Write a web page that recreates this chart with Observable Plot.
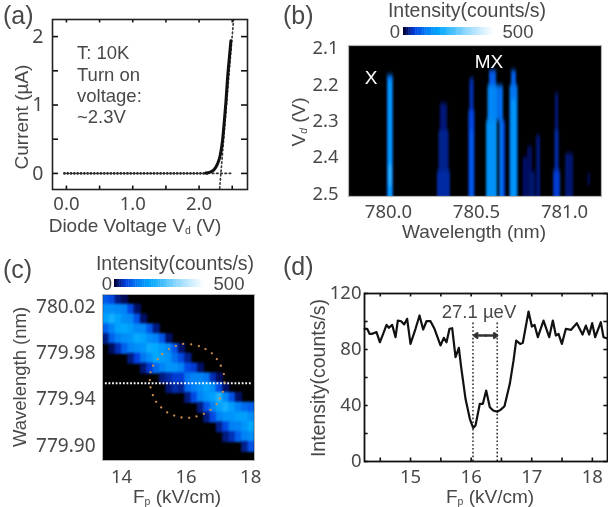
<!DOCTYPE html>
<html><head><meta charset="utf-8">
<script src="https://cdn.jsdelivr.net/npm/d3@7"></script>
<script src="https://cdn.jsdelivr.net/npm/@observablehq/plot@0.6"></script>
<style>
html,body{margin:0;padding:0;background:#fff}
#root{position:relative;width:608px;height:507px;overflow:hidden;font-family:"Liberation Sans",Arial,sans-serif;color:#484848;filter:blur(0.35px)}
#root svg{position:absolute;background:transparent;overflow:visible}
.t{position:absolute;white-space:nowrap;line-height:1;transform:translate(-50%,-50%)}
.t sub{font-size:.55em;vertical-align:-0.25em;line-height:0}
</style></head><body>
<svg width="0" height="0" style="position:absolute"><defs><filter id="streak" x="-5%" y="-20%" width="110%" height="140%"><feGaussianBlur stdDeviation="1.1 2.8"/></filter></defs></svg>
<div id="root"></div>
<script>
// ---------- panel (a) diode I-V ----------
const ivFlatV = [-0.03,0.02,0.07,0.12,0.17,0.22,0.27,0.32,0.37,0.42,0.47,0.52,0.57,0.62,0.67,0.72,0.77,0.82,0.87,0.92,0.97,1.02,1.07,1.12,1.17,1.22,1.27,1.32,1.37,1.42,1.47,1.52,1.57,1.62,1.67,1.72,1.77,1.82,1.87,1.92,1.97,2.02,2.07,2.12];
const ivFlatI = ivFlatV.map(() => 0);
const ivV = [2.10,2.167,2.228,2.278,2.318,2.353,2.379,2.404,2.428,2.459,2.48];
const ivI = [0.005,0.02,0.058,0.14,0.263,0.48,0.75,1.04,1.38,1.72,1.94];
const tangentV = [2.31,2.52];
const tangentI = [-0.22,2.25];
const zeroV = [2.2,2.48];
const zeroI = [0,0];
const aXTicks = [0,0.5,1,1.5,2,2.5];
const aXLabels = [0,1,2];
const aYTicks = [0,0.5,1,1.5,2];
const aYLabels = [0,1,2];
const aNotes = ["T: 10K","Turn on","voltage:","~2.3V"];

// ---------- panels (b,c) shared colour map ----------
const cmapStops = [0,60,130,200,350,500];
const cmapColors = ["#00003c","#0040e0","#0080f5","#00a8ff","#90d8ff","#ffffff"];
const legendSteps = [0,10,20,30,40,50,60,70,80,90,100,110,120,130,140,150,160,170,180,190,200,210,220,230,240,250,260,270,280,290,300,310,320,330,340,350,360,370,380,390,400,410,420,430,440,450,460,470,480,490];

// ---------- panel (b) spectra, one row per emission segment ----------
const bWl1 = [779.994,780.003,780.003,780.295,780.287,780.278,780.463,780.457,780.466,780.574,780.565,780.557,780.619,780.631,780.653,780.699,780.690,780.699,780.765,780.790,780.800,780.841,780.949,780.946,780.938,781.006,781.131];
const bWl2 = [780.028,780.020,780.020,780.335,780.344,780.352,780.486,780.491,780.483,780.614,780.619,780.619,780.653,780.653,780.665,780.727,780.736,780.727,780.790,780.820,780.835,780.864,780.966,780.969,780.977,781.051,781.148];
const bV1  = [2.174,2.188,2.423,2.252,2.326,2.437,2.183,2.271,2.326,2.161,2.202,2.299,2.202,2.299,2.299,2.161,2.202,2.243,2.400,2.370,2.440,2.340,2.224,2.326,2.437,2.390,2.445];
const bV2  = [2.6,2.6,2.478,2.326,2.437,2.6,2.271,2.6,2.6,2.202,2.299,2.6,2.299,2.6,2.6,2.202,2.6,2.6,2.6,2.6,2.6,2.6,2.326,2.437,2.6,2.6,2.478];
const bI   = [110,190,240,22,30,38,45,65,90,90,140,160,110,115,60,95,120,170,16,12,18,22,26,40,55,20,7];
const bXTicks = [780,780.5,781];
const bYTicks = [2.1,2.2,2.3,2.4,2.5];

// ---------- panel (c) field map: first column of each row + its intensities ----------
const cFieldStart = 13.41, cFieldStep = 0.196, cWlStart = 780.031, cWlStep = 0.0085;
const cStart = [0,0,0,0,0,1,4,6,9,10,13,15,16,18,19,22];
const cRow00 = [90,70,25,10];
const cRow01 = [155,155,145,135,70,15];
const cRow02 = [185,220,190,155,145,80,15];
const cRow03 = [95,135,190,200,180,145,145,85,25];
const cRow04 = [25,95,135,155,165,205,190,155,135,85,15];
const cRow05 = [12,45,95,135,155,165,210,200,170,145,80,15];
const cRow06 = [25,60,120,155,200,180,165,110,70,30];
const cRow07 = [20,55,105,135,165,165,135,70,55,15];
const cRow08 = [25,40,55,55,120,135,135,120,45,12];
const cRow09 = [20,40,30,105,130,155,185,155,70,15];
const cRow10 = [25,70,135,170,190,235,145,80,15];
const cRow11 = [25,80,135,190,220,180,135,110,95];
const cRow12 = [25,70,135,165,165,180,190,155];
const cRow13 = [30,70,130,135,165,200];
const cRow14 = [25,45,95,135,155];
const cRow15 = [30,80];
const cRows = [cRow00,cRow01,cRow02,cRow03,cRow04,cRow05,cRow06,cRow07,cRow08,cRow09,cRow10,cRow11,cRow12,cRow13,cRow14,cRow15];
const ringF = [14.877,14.898,14.970,15.073,15.228,15.414,15.631,15.858,16.096,16.323,16.550,16.757,16.943,17.046,17.139,17.191,17.170,17.077,16.953,16.798,16.602,16.396,16.158,15.910,15.683,15.466,15.259,15.125,14.980,14.898];
const ringW = [779.9568,779.9504,779.9437,779.9379,779.9330,779.9287,779.9260,779.9243,779.9240,779.9252,779.9275,779.9310,779.9359,779.9408,779.9466,779.9547,779.9620,779.9692,779.9750,779.9800,779.9837,779.9863,779.9878,779.9881,779.9863,779.9837,779.9794,779.9750,779.9692,779.9635];
const cutWl = 779.954;
const cXTicks = [14,16,18];
const cYTicks = [780.02,779.98,779.94,779.90];

// ---------- panel (d) cross-section ----------
const dF = [14.24,14.284,14.323,14.367,14.438,14.493,14.548,14.603,14.642,14.697,14.752,14.790,14.845,14.895,14.944,14.999,15.082,15.148,15.208,15.263,15.329,15.395,15.494,15.549,15.593,15.643,15.687,15.742,15.797,15.835,15.907,15.978,16.033,16.072,16.143,16.193,16.248,16.308,16.363,16.429,16.484,16.550,16.638,16.699,16.743,16.809,16.853,16.947,17.002,17.046,17.101,17.194,17.288,17.348,17.398,17.442,17.497,17.563,17.645,17.744,17.838,17.893,17.948,17.997,18.047,18.140,18.184,18.267];
const dI = [94.8,94.8,91.2,91.2,92.4,85.2,91.2,97.6,95.5,97.6,88.8,100.7,100.2,97.9,101.9,84,94.8,104.3,94.3,100.2,100.2,94.8,82.9,88.3,85.2,94.8,95.2,74.5,81.2,67.4,44.8,30.5,24,25.7,41.2,41.2,50.7,38.8,36.4,35.5,36.9,39.5,55.5,72,86.4,84,84.8,107.1,96.4,97.6,88.8,100.7,88.8,100.7,90,91.2,84,94.8,94,98.8,90.7,97.1,90.7,98.8,88.8,99.5,88.8,87.6];
const dipF = [16.03,16.43];
const dipTop = 99;
const arrowF = [16.05,16.43];
const arrowI = 90;
const dXTicks = [14.5,15,15.5,16,16.5,17,17.5,18];
const dXLabels = [15,16,17,18];
const dYTicks = [0,20,40,60,80,100,120];
const dYLabels = [0,40,80,120];

// ---------- helpers ----------
const root = document.getElementById("root");
const textColor = "#484848";
function mount(plot,left,top){plot.style.left=left+"px";plot.style.top=top+"px";root.appendChild(plot);}
function label(html,cx,cy,o={}){
  const d=document.createElement("div");d.className="t";d.innerHTML=html;
  d.style.left=cx+"px";d.style.top=cy+"px";d.style.fontSize=(o.size||19)+"px";
  if(o.color)d.style.color=o.color;
  if(o.left)d.style.transform="translate(0,-50%)";
  if(o.rot)d.style.transform="translate(-50%,-50%) rotate(-90deg)";
  root.appendChild(d);
}
function inwardTicks(xs,ys,xd,yd,lx,ly,w=1.5,color="#111"){
  return [
    Plot.ruleX(xs,{y1:yd[0],y2:yd[0]+ly,stroke:color,strokeWidth:w}),
    Plot.ruleX(xs,{y1:yd[1],y2:yd[1]-ly,stroke:color,strokeWidth:w}),
    Plot.ruleY(ys,{x1:xd[0],x2:xd[0]+lx,stroke:color,strokeWidth:w}),
    Plot.ruleY(ys,{x1:xd[1],x2:xd[1]-lx,stroke:color,strokeWidth:w})
  ];
}
const colorScale = {type:"linear",domain:cmapStops,range:cmapColors,interpolate:"rgb"};
function colorBar(left,top){
  mount(Plot.plot({width:89,height:8,margin:0,x:{domain:[0,500],axis:null},y:{axis:null,domain:[0,1]},color:colorScale,style:{background:"transparent"},
    marks:[Plot.rect(legendSteps,{x1:d=>d,x2:d=>Math.min(d+12,500),y1:0,y2:1,fill:d=>d,imageFilter:"blur(0.5px)"})]}),left,top);
}
const axisFont = 18.5;

// ---------- (a) ----------
{
  const xd=[-0.21,2.73], yd=[-0.235,2.25];
  mount(Plot.plot({width:270,height:225,marginLeft:52,marginRight:23,marginTop:19,marginBottom:36,
    x:{domain:xd},y:{domain:yd},style:{background:"transparent",color:textColor},
    marks:[
      Plot.line(tangentV,{x:d=>d,y:(d,i)=>tangentI[i],stroke:"#333",strokeWidth:1.6,strokeDasharray:"1.6 2.6"}),
      Plot.line(zeroV,{x:d=>d,y:(d,i)=>zeroI[i],stroke:"#333",strokeWidth:1.6,strokeDasharray:"1.6 2.6"}),
      Plot.dot(ivFlatV,{x:d=>d,y:(d,i)=>ivFlatI[i],r:1.3,fill:"#222"}),
      Plot.ruleY([0],{x1:ivFlatV[0],x2:ivV[0],stroke:"#333",strokeWidth:1}),
      Plot.line(ivV,{x:d=>d,y:(d,i)=>ivI[i],stroke:"#111",strokeWidth:3,curve:"monotone-x"}),
      ...inwardTicks(aXTicks,aYTicks,xd,yd,0.09,0.05,1.6),
      Plot.axisX(aXLabels,{tickSize:0,tickPadding:7,fontSize:axisFont,tickFormat:".1f",label:null}),
      Plot.axisY(aYLabels,{tickSize:0,tickPadding:9,fontSize:axisFont+1,tickFormat:".0f",label:null}),
      Plot.frame({stroke:"#222",strokeWidth:1.6})
    ]}),0,0);
  label("(a)",3,15,{size:25,left:true});
  label("Current (µA)",21,117,{rot:true});
  label("Diode Voltage V<sub>d</sub> (V)",135,225);
  [53,75,96,117].forEach((y,i)=>label(aNotes[i],77,y,{left:true,size:18.5}));
}
// ---------- (b) ----------
{
  const xd=[779.773,781.21], yd=[2.508,2.092];
  mount(Plot.plot({width:318,height:230,marginLeft:58,marginRight:7,marginTop:45,marginBottom:34,
    x:{domain:xd},y:{domain:yd},color:colorScale,style:{background:"transparent",color:textColor},
    marks:[
      Plot.frame({fill:"#000",stroke:"none"}),
      Plot.rect(bI,{x1:(d,i)=>bWl1[i],x2:(d,i)=>bWl2[i],y1:(d,i)=>bV1[i],y2:(d,i)=>bV2[i],fill:d=>d,imageFilter:"url(#streak)",clip:"frame"}),
      Plot.axisX(bXTicks,{tickSize:0,tickPadding:8,fontSize:axisFont,tickFormat:".1f",label:null}),
      Plot.axisY(bYTicks,{tickSize:0,tickPadding:10,fontSize:axisFont,tickFormat:".1f",label:null}),
      Plot.frame({stroke:"#b5b5b5",strokeWidth:1.2})
    ]}),290,0);
  label("(b)",283,15,{size:25,left:true});
  label("Intensity(counts/s)",467,11,{size:19.5});
  colorBar(403,27);
  label("0",395,32,{size:18.5});
  label("500",518,32,{size:18.5});
  label("X",371,77,{color:"#fff"});
  label("MX",489,61,{color:"#fff"});
  label("V<sub><i>d</i></sub> (V)",298,122,{rot:true});
  label("Wavelength (nm)",474,231);
}
// ---------- (c) ----------
{
  const xd=[13.41,18.12], yd=[779.887,780.031];
  const cells=cRows.flatMap((row,r)=>row.map((v,j)=>({col:cStart[r]+j,row:r,v})));
  mount(Plot.plot({width:270,height:250,marginLeft:102,marginRight:16,marginTop:44,marginBottom:40,
    x:{domain:xd},y:{domain:yd},color:colorScale,style:{background:"transparent",color:textColor},
    marks:[
      Plot.frame({fill:"#000",stroke:"none"}),
      Plot.rect(cells,{x1:d=>cFieldStart+d.col*cFieldStep,x2:d=>cFieldStart+(d.col+1.15)*cFieldStep,y1:d=>cWlStart-d.row*cWlStep,y2:d=>cWlStart-(d.row+1.12)*cWlStep,fill:"v",imageFilter:"blur(0.8px)",clip:"frame"}),
      Plot.axisX(cXTicks,{tickSize:0,tickPadding:9,fontSize:axisFont,label:null}),
      Plot.axisY(cYTicks,{tickSize:0,tickPadding:7,fontSize:axisFont+.5,tickFormat:".2f",label:null}),
      Plot.ruleY([cutWl],{x1:13.5,x2:18.05,stroke:"#fff",strokeWidth:1.8,strokeDasharray:"1.8 1.8"}),
      Plot.dot(ringF,{x:d=>d,y:(d,i)=>ringW[i],r:1.15,fill:"#d09050"}),
      Plot.frame({stroke:"#b5b5b5",strokeWidth:1})
    ]}),0,250);
  label("(c)",3,269,{size:25,left:true});
  label("Intensity(counts/s)",175,264,{size:19.5});
  colorBar(114,279);
  label("0",107,284,{size:18.5});
  label("500",229,284,{size:18.5});
  label("Wavelength (nm)",20,377,{rot:true,size:18.5});
  label("F<sub>p</sub> (kV/cm)",177,496);
}
// ---------- (d) ----------
{
  const xd=[14.24,18.25], yd=[0,120];
  mount(Plot.plot({width:288,height:225,marginLeft:44,marginRight:1,marginTop:23,marginBottom:34,
    x:{domain:xd},y:{domain:yd},style:{background:"transparent",color:textColor},
    marks:[
      Plot.ruleX(dipF,{y1:0,y2:dipTop,stroke:"#333",strokeWidth:1.6,strokeDasharray:"1.6 2.2"}),
      Plot.line(dF,{x:d=>d,y:(d,i)=>dI[i],stroke:"#111",strokeWidth:2.2}),
      Plot.arrow(arrowF,{x1:(arrowF[0]+arrowF[1])/2,y1:arrowI,x2:d=>d,y2:arrowI,stroke:"#333",strokeWidth:2.4,headLength:10,headAngle:70}),
      ...inwardTicks(dXTicks,dYTicks,xd,yd,0.06,2.5,1.6),
      Plot.axisX(dXLabels,{tickSize:0,tickPadding:8,fontSize:axisFont,label:null}),
      Plot.axisY(dYLabels,{tickSize:0,tickPadding:3,fontSize:axisFont,label:null}),
      Plot.frame({stroke:"#111",strokeWidth:1.8})
    ]}),320,270);
  label("(d)",283,266,{size:25,left:true});
  label("Intensity(counts/s)",319,378,{rot:true,size:19.5});
  label("F<sub>p</sub> (kV/cm)",490,496);
  label("27.1 µeV",479,312,{size:18.5});
}
</script></body></html>
